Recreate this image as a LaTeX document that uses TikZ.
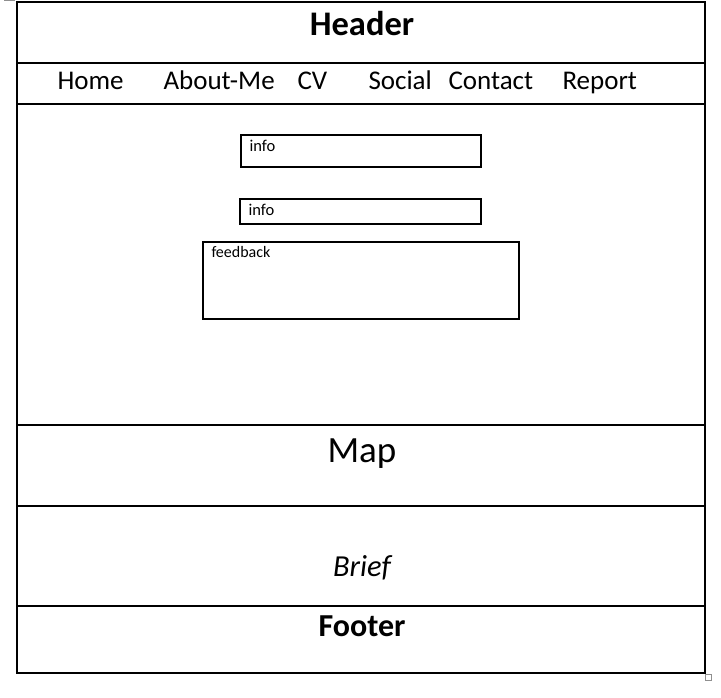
\documentclass[tikz,border=0pt]{standalone}
\usepackage{fontspec}
\setmainfont{Carlito}
\newlength{\du}
\setlength{\du}{1pt}

\begin{document}
\begin{tikzpicture}
\pgftransformxscale{1.000000}
\pgftransformyscale{-1.000000}
\definecolor{dialinecolor}{rgb}{0.000000, 0.000000, 0.000000}
\definecolor{diahandlecolor}{rgb}{0.560000, 0.560000, 0.560000}
\pgfsetstrokecolor{dialinecolor}
\pgfsetlinewidth{1.100000\du}
\pgfsetdash{}{0pt}
\pgfsetmiterjoin
\pgfsetbuttcap
\useasboundingbox (0.000000\du,0.000000\du) rectangle (721.000000\du,697.000000\du);
% page frame
\draw (17.000000\du,2.000000\du)--(17.000000\du,673.000000\du)--(705.000000\du,673.000000\du)--(705.000000\du,2.000000\du)--cycle;
% section rules
\draw (17.000000\du,63.000000\du)--(705.000000\du,63.000000\du);
\draw (17.000000\du,104.000000\du)--(705.000000\du,104.000000\du);
\draw (17.000000\du,425.000000\du)--(705.000000\du,425.000000\du);
\draw (17.000000\du,506.000000\du)--(705.000000\du,506.000000\du);
\draw (17.000000\du,606.000000\du)--(705.000000\du,606.000000\du);
% form boxes
\draw (241.000000\du,135.000000\du)--(241.000000\du,167.000000\du)--(481.000000\du,167.000000\du)--(481.000000\du,135.000000\du)--cycle;
\draw (240.000000\du,199.000000\du)--(240.000000\du,224.000000\du)--(481.000000\du,224.000000\du)--(481.000000\du,199.000000\du)--cycle;
\draw (203.000000\du,242.000000\du)--(203.000000\du,319.000000\du)--(519.000000\du,319.000000\du)--(519.000000\du,242.000000\du)--cycle;
% handles
{\pgfsetlinewidth{1.000000\du}
\draw[diahandlecolor] (705.500000\du,674.500000\du)--(705.500000\du,680.000000\du)--(711.000000\du,680.000000\du)--(711.000000\du,674.500000\du)--cycle;
\draw[diahandlecolor] (4.000000\du,0.500000\du)--(15.000000\du,0.500000\du);
}
% texts
\node[anchor=base,inner sep=0pt,font=\fontsize{34.5\du}{40\du}\bfseries] (header) at (362.000000\du,35.000000\du) {Header};
\node[anchor=base west,inner sep=0pt,font=\fontsize{27\du}{32\du}\selectfont] (home) at (57.000000\du,89.000000\du) {Home};
\node[anchor=base west,inner sep=0pt,font=\fontsize{27\du}{32\du}\selectfont] (aboutme) at (163.000000\du,89.000000\du) {About-Me};
\node[anchor=base west,inner sep=0pt,font=\fontsize{27\du}{32\du}\selectfont] (cv) at (297.000000\du,89.000000\du) {CV};
\node[anchor=base west,inner sep=0pt,font=\fontsize{27\du}{32\du}\selectfont] (social) at (368.000000\du,89.000000\du) {Social};
\node[anchor=base west,inner sep=0pt,font=\fontsize{27\du}{32\du}\selectfont] (contact) at (448.000000\du,89.000000\du) {Contact};
\node[anchor=base west,inner sep=0pt,font=\fontsize{27\du}{32\du}\selectfont] (report) at (562.000000\du,89.000000\du) {Report};
\node[anchor=base west,inner sep=0pt,font=\fontsize{16.5\du}{20\du}\selectfont] (infoa) at (249.000000\du,151.000000\du) {info};
\node[anchor=base west,inner sep=0pt,font=\fontsize{16.5\du}{20\du}\selectfont] (infob) at (248.000000\du,215.000000\du) {info};
\node[anchor=base west,inner sep=0pt,font=\fontsize{16\du}{20\du}\selectfont] (feedback) at (211.000000\du,257.000000\du) {feedback};
\node[anchor=base,inner sep=0pt,font=\fontsize{37\du}{44\du}\selectfont] (map) at (362.000000\du,462.000000\du) {Map};
\node[anchor=base,inner sep=0pt,font=\fontsize{30.5\du}{36\du}\itshape] (brief) at (362.000000\du,576.000000\du) {Brief};
\node[anchor=base,inner sep=0pt,font=\fontsize{32\du}{38\du}\bfseries] (footer) at (362.000000\du,636.000000\du) {Footer};
\end{tikzpicture}
\end{document}
